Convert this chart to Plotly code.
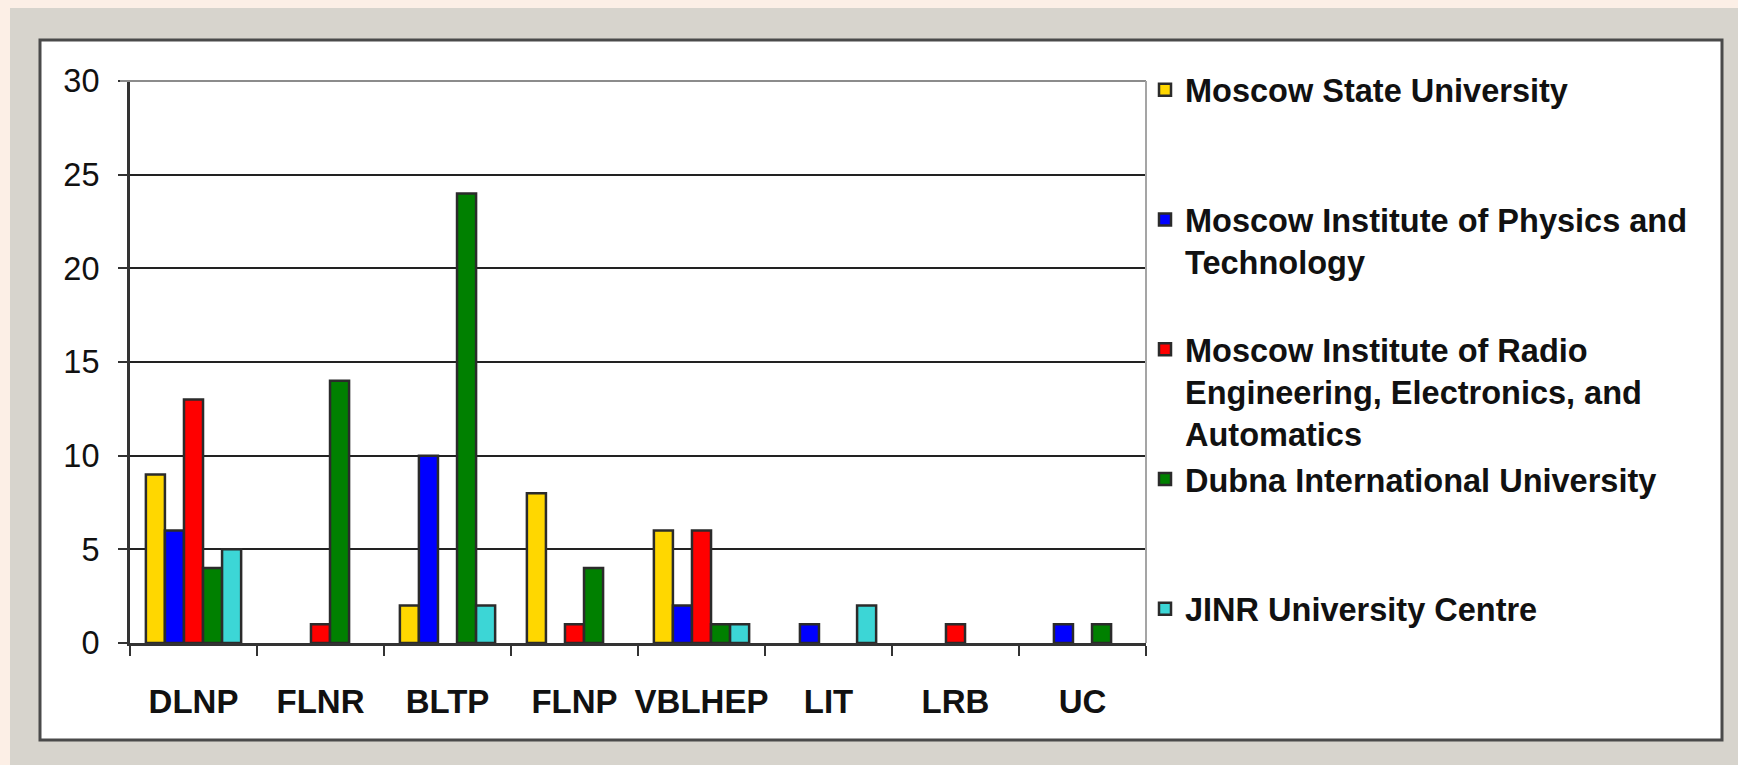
import plotly.graph_objects as go

# ---- data ----
categories = ["DLNP", "FLNR", "BLTP", "FLNP", "VBLHEP", "LIT", "LRB", "UC"]
series_names = [
    "Moscow State University",
    "Moscow Institute of Physics and<br>Technology",
    "Moscow Institute of Radio<br>Engineering, Electronics, and<br>Automatics",
    "Dubna International University",
    "JINR University Centre",
]
msu = [9, 0, 2, 8, 6, 0, 0, 0]
mipt = [6, 0, 10, 0, 2, 1, 0, 1]
mirea = [13, 1, 0, 1, 6, 0, 1, 0]
dubna = [4, 14, 24, 4, 1, 0, 0, 1]
jinr = [5, 0, 2, 0, 1, 2, 0, 0]
y_ticks = [0, 5, 10, 15, 20, 25, 30]

series_values = [msu, mipt, mirea, dubna, jinr]
colors = ["#FFD700", "#0000FF", "#FF0000", "#008000", "#3CD6D6"]

# ---- geometry (pixels) ----
W, H = 1738, 765
L, R, T, B = 130, 1146, 81, 643
PW, PH = R - L, B - T


def px(x):
    return (x - L) / PW


def py(y):
    return (B - y) / PH


def pad_lines(name, n=3):
    k = name.count("<br>") + 1
    return name + "<br>\u00a0" * (n - k)


fig = go.Figure()
for name, vals, col in zip(series_names, series_values, colors):
    fig.add_trace(go.Bar(
        x=categories,
        y=[v if v else None for v in vals],
        name=pad_lines(name),
        marker=dict(color=col, line=dict(color="#2b2b2b", width=2.5)),
    ))

shapes = [
    # grey outer panel
    dict(type="rect", xref="paper", yref="paper", layer="below",
         x0=px(10), x1=px(1760), y0=py(8), y1=py(790),
         fillcolor="#d7d4cd", line=dict(width=0)),
    # white inner box
    dict(type="rect", xref="paper", yref="paper", layer="below",
         x0=px(40), x1=px(1722), y0=py(40), y1=py(740),
         fillcolor="#ffffff", line=dict(color="#4a4a4a", width=3)),
    # grey top border of plot area
    dict(type="line", xref="paper", yref="paper", layer="above",
         x0=px(120), x1=1, y0=1, y1=1, line=dict(color="#8c8c8c", width=2)),
    # grey right border of plot area
    dict(type="line", xref="paper", yref="paper", layer="above",
         x0=1, x1=1, y0=0, y1=1, line=dict(color="#a5a5a5", width=2)),
]

font_fam = "Liberation Sans, Arial, sans-serif"

fig.update_layout(
    width=W, height=H,
    margin=dict(l=L, r=W - R, t=T, b=H - B, pad=0, autoexpand=False),
    paper_bgcolor="#fcefe6",
    plot_bgcolor="#ffffff",
    barmode="group",
    bargap=0.25,
    bargroupgap=0,
    shapes=shapes,
    showlegend=True,
    legend=dict(
        x=px(1145), xanchor="left",
        y=py(62), yanchor="top",
        valign="top",
        traceorder="normal",
        itemwidth=30,
        maxheight=720,
        bgcolor="rgba(0,0,0,0)",
        font=dict(family=font_fam, size=32.5, color="#111111", weight="bold"),
    ),
    xaxis=dict(
        type="category",
        automargin=False,
        tickangle=0,
        tickson="boundaries",
        ticks="outside", ticklen=10, tickwidth=2, tickcolor="#333333",
        showline=True, linecolor="#333333", linewidth=3,
        showgrid=False,
        tickfont=dict(family=font_fam, size=33, color="#111111", weight="bold"),
        ticklabelstandoff=27,
    ),
    yaxis=dict(
        automargin=False,
        range=[0, 30],
        tickvals=y_ticks,
        showgrid=True, gridcolor="#222222", gridwidth=2,
        ticks="outside", ticklen=9, tickwidth=2, tickcolor="#333333",
        showline=True, linecolor="#333333", linewidth=3,
        zeroline=False,
        tickfont=dict(family=font_fam, size=32.5, color="#111111"),
        ticklabelstandoff=12,
    ),
)

fig.write_html(
    "out.html",
    config={"displayModeBar": False},
    post_script="document.body.style.margin='0';document.body.style.background='#fcefe6';",
)
